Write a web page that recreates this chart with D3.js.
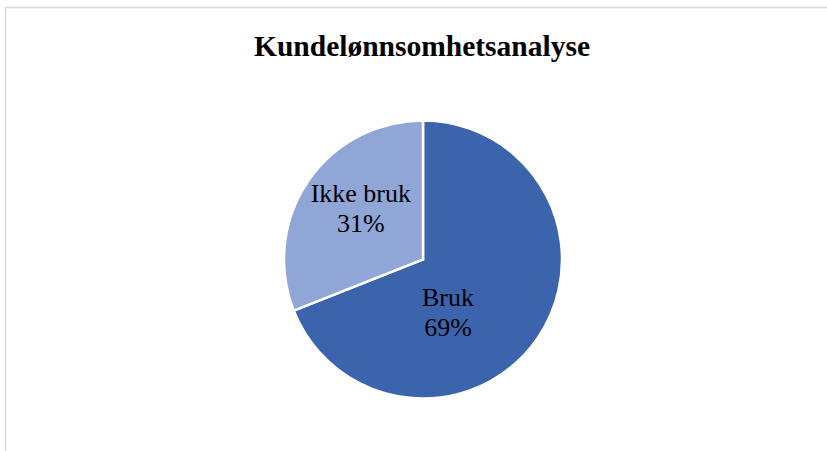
<!DOCTYPE html>
<html>
<head>
<meta charset="utf-8">
<script src="https://cdn.jsdelivr.net/npm/d3@7"></script>
<style>
  html, body { margin: 0; padding: 0; background: #fff; }
  svg { display: block; }
</style>
</head>
<body>
<svg id="chart" width="827" height="451"></svg>
<script>
// Share of customers using the profitability analysis
const categories = ["Bruk", "Ikke bruk"];
const shares = [69, 31];
const colors = ["#3B64AD", "#8FA6D6"];
const chartTitle = "Kundelønnsomhetsanalyse";

const width = 827, height = 451;
const cx = 423, cy = 259.5, radius = 139;

const svg = d3.select("#chart");

// chart area frame
svg.append("rect")
  .attr("x", 5.5).attr("y", 7.5)
  .attr("width", 840).attr("height", 460)
  .attr("fill", "#fff")
  .attr("stroke", "#D9D9D9")
  .attr("stroke-width", 1.5);

svg.append("text")
  .attr("x", 422).attr("y", 56)
  .attr("text-anchor", "middle")
  .attr("font-family", "'Liberation Serif', 'Times New Roman', serif")
  .attr("font-weight", "bold")
  .attr("font-size", 29.5)
  .attr("fill", "#000")
  .text(chartTitle);

const data = categories.map((c, i) => ({ name: c, value: shares[i], color: colors[i] }));

const pie = d3.pie().value(d => d.value).sort(null).startAngle(0).endAngle(2 * Math.PI);
const arcs = pie(data);
const arc = d3.arc().innerRadius(0).outerRadius(radius);

const g = svg.append("g").attr("transform", `translate(${cx},${cy})`);

g.selectAll("path.slice")
  .data(arcs)
  .join("path")
  .attr("class", "slice")
  .attr("d", arc)
  .attr("fill", d => d.data.color)
  .attr("stroke", "#fff")
  .attr("stroke-width", 2.5)
  .attr("stroke-linejoin", "miter");

// label placement inside each slice (radius along mid-angle, plus fit nudge)
const labelLayout = [
  { r: 58, dx: -23, dy: 21 },
  { r: 80, dx: 4, dy: -6 }
];
const total = d3.sum(shares);

arcs.forEach((a, i) => {
  const lay = labelLayout[i];
  const mid = (a.startAngle + a.endAngle) / 2;
  const x = Math.sin(mid) * lay.r + lay.dx;
  const y = -Math.cos(mid) * lay.r + lay.dy;
  const t = g.append("text")
    .attr("text-anchor", "middle")
    .attr("font-family", "'Liberation Serif', 'Times New Roman', serif")
    .attr("font-size", 26)
    .attr("fill", "#000");
  t.append("tspan").attr("x", x).attr("y", y - 7).text(a.data.name);
  t.append("tspan").attr("x", x).attr("y", y + 23)
    .text(Math.round(a.data.value / total * 100) + "%");
});
</script>
</body>
</html>
